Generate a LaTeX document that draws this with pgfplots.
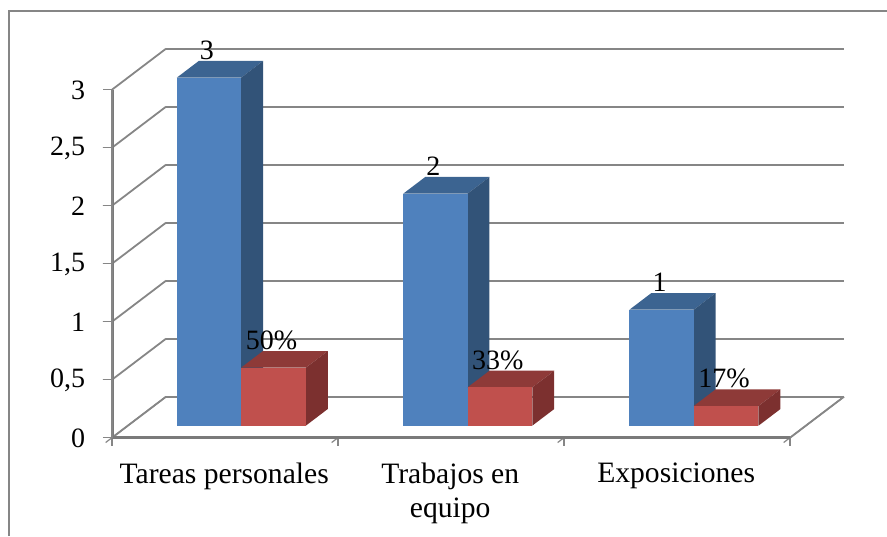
\documentclass[border=0pt]{standalone}
\usepackage{fontspec}
\setmainfont{Liberation Serif}
\usepackage{pgfplots}
\pgfplotsset{compat=1.18}

\definecolor{blueF}{HTML}{4F81BD}
\definecolor{blueS}{HTML}{325378}
\definecolor{blueT}{HTML}{3C6491}
\definecolor{redF}{HTML}{C0504D}
\definecolor{redS}{HTML}{7C302F}
\definecolor{redT}{HTML}{8E3A38}
\definecolor{linegray}{HTML}{868686}
\definecolor{axisgray}{HTML}{7A7A7A}
\newcommand\chartfont{\fontsize{14.8}{17}\selectfont}
\newcommand\valuefont{\fontsize{14}{17}\selectfont}

% x from, x to, value, colour prefix, label
\newcommand\drawbar[5]{
  \addplot3[fill=#4T,draw=none] coordinates {(#1,0.293,#3)(#2,0.293,#3)(#2,0.7,#3)(#1,0.7,#3)};
  \addplot3[fill=#4S,draw=none] coordinates {(#2,0.293,0)(#2,0.7,0)(#2,0.7,#3)(#2,0.293,#3)};
  \addplot3[fill=#4F,draw=none] coordinates {(#1,0.293,0)(#2,0.293,0)(#2,0.293,#3)(#1,0.293,#3)};
  \node[font=\valuefont,inner sep=0pt,xshift=-1pt,yshift=13.6pt] at (axis cs:{(#1+#2)/2},0.293,#3) {#5};
}

\begin{document}
\begin{tikzpicture}
  \path[use as bounding box] (0,0) rectangle (443.5pt,268pt);
  \draw[linegray,line width=0.8pt] (4.6pt,0) -- (4.6pt,262.6pt) -- (443.5pt,262.6pt);
  \begin{axis}[
    at={(56pt,49.15pt)},
    anchor=origin,
    x={(113pt,0pt)},
    y={(27pt,20.5pt)},
    z={(0pt,58pt)},
    xmin=0, xmax=3,
    ymin=0, ymax=1,
    zmin=0, zmax=3,
    clip=false,
    axis lines=left,
    axis line style={-,linegray,line width=0.9pt},
    no markers,
    xtick={0.5,1.5,2.5},
    xticklabels={Tareas personales,{Trabajos en\\equipo},Exposiciones},
    minor xtick={0,1,2,3},
    major x tick style={draw=none},
    minor x tick style={linegray,line width=0.6pt},
    minor tick length=4pt,
    x tick label style={align=center,anchor=north,xshift=3pt,yshift=-6.5pt,font=\chartfont},
    ytick=\empty,
    ztick={0,0.5,1,1.5,2,2.5,3},
    zmajorgrids=true,
    grid style={linegray,line width=0.9pt},
    major z tick style={draw=none},
    z tick label style={anchor=east,font=\valuefont,xshift=-6.5pt,yshift=2.3pt},
    tick align=outside,
    /pgf/number format/assume math mode=true,
    /pgf/number format/use comma,
  ]
  \addplot3[linegray,line width=0.7pt] coordinates {(3,0,0)(3,1,0)};
  \addplot3[linegray,line width=0.7pt] coordinates {(0,0,0)(0,1,0)};
  \addplot3[axisgray,line width=1.5pt] coordinates {(0,0,0)(1.5,0,0)(3,0,0)};
  \addplot3[axisgray,line width=1.5pt] coordinates {(0,0,0)(0,0,1.5)(0,0,3)};
  \addplot3[linegray,line width=0.7pt] coordinates {
    (-0.04,0,0)(0,0,0)(0,0,0.5)(-0.04,0,0.5)(0,0,0.5)(0,0,1)(-0.04,0,1)(0,0,1)
    (0,0,1.5)(-0.04,0,1.5)(0,0,1.5)(0,0,2)(-0.04,0,2)(0,0,2)(0,0,2.5)(-0.04,0,2.5)
    (0,0,2.5)(0,0,3)(-0.04,0,3)
  };
  \drawbar{0.2165}{0.501}{3}{blue}{3}
  \drawbar{0.501}{0.7875}{0.5}{red}{50\%}
  \drawbar{1.2185}{1.503}{2}{blue}{2}
  \drawbar{1.503}{1.7895}{0.33}{red}{33\%}
  \drawbar{2.2195}{2.504}{1}{blue}{1}
  \drawbar{2.504}{2.7905}{0.17}{red}{17\%}
  \end{axis}
\end{tikzpicture}
\end{document}
